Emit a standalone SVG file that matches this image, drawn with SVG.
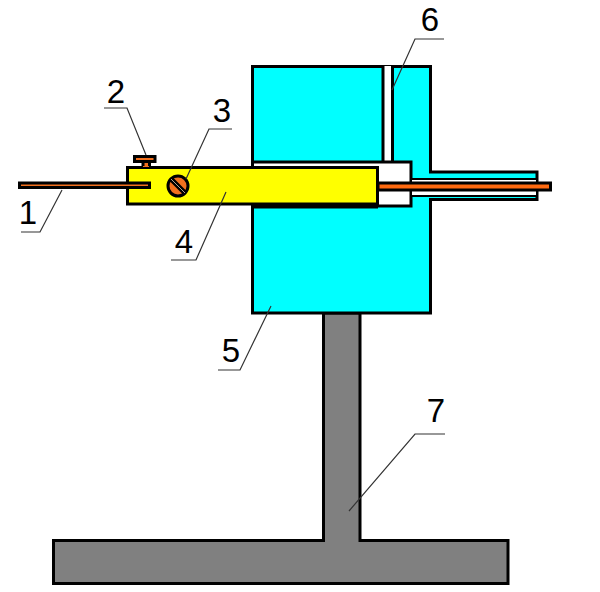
<svg xmlns="http://www.w3.org/2000/svg" width="600" height="592" viewBox="0 0 600 592">
<style>
.o{stroke:#000;stroke-width:3}
.t{stroke:#000;stroke-width:2}
.cy{fill:#00ffff}.wh{fill:#fff}.ye{fill:#ffff00}.gr{fill:#808080}.or{fill:#f2701e}.rod{fill:#ff6a10}
.ld{fill:none;stroke:#333;stroke-width:1.200}
text{font-family:"Liberation Sans",Arial,sans-serif;font-size:33px;fill:#000;text-anchor:middle}
</style>
<rect width="600" height="592" fill="#fff"/>
<g id="node-7">
<path class="o gr" d="M323.500 313V540.500H53.500V583.500H508V540.500H360V313Z"/>
<text x="436" y="422">7</text>
</g>
<g id="node-5">
<path class="o cy" d="M252.500 66.500H430.500V172H537V199.500H430.500V313H252.500Z"/>
<text x="231" y="362">5</text>
</g>
<g id="node-6">
<path class="wh" d="M384 66H392V162H384Z"/>
<path class="o" fill="none" d="M383 66V162M392.500 66V162"/>
<text x="430" y="30.500">6</text>
</g>
<g id="chamber">
<path class="o wh" d="M252.500 162H411V206H252.500Z"/>
<path class="t wh" d="M411 179H537V196H411Z"/>
<path d="M253 207H378" stroke="#000" stroke-width="3"/>
</g>
<g id="node-4">
<rect class="o ye" x="127.500" y="167.500" width="250" height="36.500"/>
<text x="184" y="253">4</text>
</g>
<g id="node-1">
<rect class="o or" x="19.500" y="183" width="130" height="4.500"/>
<rect class="o rod" x="378" y="183" width="172.500" height="7"/>
<text x="28" y="224">1</text>
</g>
<g id="node-2">
<rect class="or" x="143" y="161" width="6" height="6"/>
<path class="o" fill="none" d="M143 161V166M149.500 161V166"/>
<rect class="o or" x="134.500" y="156.500" width="20.500" height="5"/>
<text x="116" y="103">2</text>
</g>
<g id="node-3">
<circle class="o or" cx="178" cy="186" r="10"/>
<path d="M171 179L185 193" stroke="#000" stroke-width="5"/>
<path d="M171 179L185 193" stroke="#b0a090" stroke-width="1"/>
<text x="222" y="122">3</text>
</g>
<g id="connectors">
<path class="ld" d="M62 190L40 232H21"/>
<path class="ld" d="M146 155L127 108H104"/>
<path class="ld" d="M186 179L209 129H232"/>
<path class="ld" d="M226 192L196 260H171"/>
<path class="ld" d="M271 306L240 370H218"/>
<path class="ld" d="M392 90L415 39H444"/>
<path class="ld" d="M349 511L415 434H445"/>
</g>
</svg>
